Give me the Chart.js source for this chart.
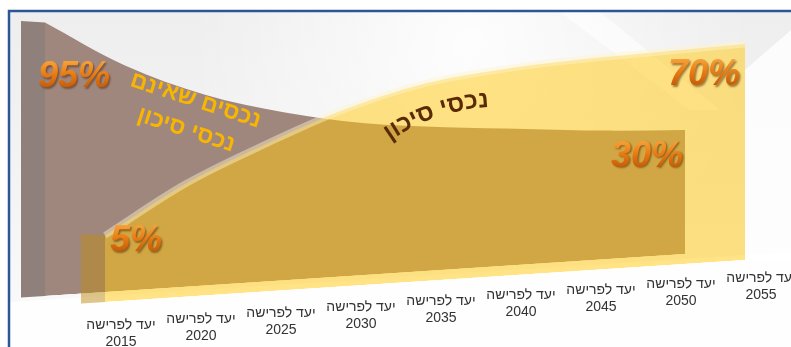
<!DOCTYPE html>
<html lang="he">
<head>
<meta charset="utf-8">
<script src="https://cdn.jsdelivr.net/npm/chart.js@4.4.1/dist/chart.umd.min.js"></script>
<style>
  html, body { margin: 0; padding: 0; background: #fff; }
  #wrap { width: 791px; height: 347px; position: relative; }
</style>
</head>
<body>
<div id="wrap"><canvas id="glide"></canvas></div>
<script>
// target retirement years and the share of each asset group
const years = ['2015', '2020', '2025', '2030', '2035', '2040', '2045', '2050', '2055'];
const tickTitle = 'יעד לפרישה';
const riskyShare = [5, 25, 40, 53, 62, 66, 68, 69, 70];
const safeShare = [95, 74, 59, 49, 42, 38, 35, 32, 30];
const riskyName = 'נכסי סיכון';
const safeName = ['נכסים שאינם', 'נכסי סיכון'];

const SLANT = -0.0655;               // bands lean up towards the right
const TICK_SLANT = -0.0735;
const BACK = { x: -60, y: -6 };      // the safe band sits behind, shifted left
const FONT = '"Liberation Sans", Arial, "DejaVu Sans", sans-serif';

function slant(ctx, x0, shift) {
  if (shift) ctx.translate(shift.x, shift.y);
  ctx.transform(1, SLANT, 0, 1, 0, -SLANT * x0);
}

function mapPt(x, y, x0, shift) {
  const dx = shift ? shift.x : 0, dy = shift ? shift.y : 0;
  return { x: x + dx, y: y + SLANT * (x - x0) + dy };
}

function percentText(ctx, text, x, y, align) {
  ctx.save();
  ctx.font = 'italic bold 36px ' + FONT;
  ctx.textAlign = align;
  ctx.textBaseline = 'alphabetic';
  const g = ctx.createLinearGradient(0, y - 27, 0, y);
  g.addColorStop(0, '#f7a43a');
  g.addColorStop(0.5, '#e97c14');
  g.addColorStop(1, '#c65c06');
  ctx.shadowColor = 'rgba(90,40,0,0.55)';
  ctx.shadowOffsetX = 1.5;
  ctx.shadowOffsetY = 1.5;
  ctx.shadowBlur = 2;
  ctx.fillStyle = g;
  ctx.fillText(text, x, y);
  ctx.restore();
}

// hebrew text laid along an arc, right end first
function arcText(ctx, text, rx, ry, radius, startDeg) {
  ctx.save();
  ctx.font = 'bold 24px ' + FONT;
  ctx.fillStyle = '#5a2a04';
  ctx.textAlign = 'center';
  ctx.textBaseline = 'alphabetic';
  const a0 = startDeg * Math.PI / 180;
  const cx = rx - radius * Math.sin(a0), cy = ry + radius * Math.cos(a0);
  let s = 0;
  for (const ch of text) {
    const w = ctx.measureText(ch).width;
    const a = a0 - (s + w / 2) / radius;
    const px = cx + radius * Math.sin(a), py = cy - radius * Math.cos(a);
    ctx.save();
    ctx.translate(px, py);
    ctx.rotate(a);
    ctx.fillText(ch, 0, 0);
    ctx.restore();
    s += w;
  }
  ctx.restore();
}

const bandPlugin = {
  id: 'bands',
  beforeDraw(chart) {
    const { ctx, width, height } = chart;
    ctx.save();
    ctx.fillStyle = '#fff';
    ctx.fillRect(0, 0, width, height);
    const bg = ctx.createLinearGradient(0, 12, 0, height);
    bg.addColorStop(0, '#eeeeee');
    bg.addColorStop(0.55, '#f4f4f4');
    bg.addColorStop(1, '#fbfbfb');
    ctx.fillStyle = bg;
    ctx.fillRect(10, 12, width - 10, height - 12);
    const glow = ctx.createRadialGradient(470, 45, 0, 470, 45, 280);
    glow.addColorStop(0, 'rgba(255,255,255,0.9)');
    glow.addColorStop(1, 'rgba(255,255,255,0)');
    ctx.fillStyle = glow;
    ctx.fillRect(10, 12, width - 10, height - 12);
    // soft light streaks
    ctx.fillStyle = 'rgba(255,255,255,0.6)';
    ctx.beginPath();
    ctx.moveTo(560, 12); ctx.lineTo(600, 12); ctx.lineTo(720, 110); ctx.lineTo(690, 110);
    ctx.closePath(); ctx.fill();
    ctx.fillStyle = 'rgba(255,255,255,0.8)';
    ctx.beginPath();
    ctx.moveTo(745, 70); ctx.lineTo(791, 30); ctx.lineTo(791, 262); ctx.lineTo(745, 262);
    ctx.closePath(); ctx.fill();
    ctx.beginPath();
    ctx.moveTo(10, 302); ctx.lineTo(791, 252); ctx.lineTo(791, 347); ctx.lineTo(10, 347);
    ctx.closePath(); ctx.fill();
    ctx.strokeStyle = '#2b5797';
    ctx.lineWidth = 2.5;
    ctx.beginPath();
    ctx.moveTo(9, height); ctx.lineTo(9, 11); ctx.lineTo(width, 11);
    ctx.stroke();
    ctx.restore();
  },
  beforeDatasetsDraw(chart) {
    // the safe band (index 1) is painted first
    chart.ctx.save();
    slant(chart.ctx, chart.chartArea.left, BACK);
  },
  afterDatasetDraw(chart, args) {
    const ctx = chart.ctx;
    const p = args.meta.data[0];
    const bottom = chart.chartArea.bottom;
    ctx.save();
    ctx.fillStyle = args.index === 1 ? '#8f807b' : 'rgba(190,140,20,0.5)';
    ctx.beginPath();
    ctx.moveTo(p.x - 24, p.y - 3);
    ctx.lineTo(p.x, p.y);
    ctx.lineTo(p.x, bottom);
    ctx.lineTo(p.x - 24, bottom);
    ctx.closePath();
    ctx.fill();
    ctx.restore();
    if (args.index === 1) {
      ctx.restore();
      ctx.save();
      slant(ctx, chart.chartArea.left, null);
    }
  },
  afterDatasetsDraw(chart) {
    const ctx = chart.ctx;
    ctx.restore();
    const left = chart.chartArea.left;
    const risky = chart.getDatasetMeta(0).data;
    const safe = chart.getDatasetMeta(1).data;
    const last = years.length - 1;

    let q = mapPt(safe[0].x, safe[0].y, left, BACK);
    percentText(ctx, safeShare[0] + '%', q.x - 7, q.y + 65, 'left');
    q = mapPt(safe[last].x, safe[last].y, left, BACK);
    percentText(ctx, safeShare[last] + '%', q.x - 2, q.y + 37, 'right');
    q = mapPt(risky[0].x, risky[0].y, left, null);
    percentText(ctx, riskyShare[0] + '%', q.x + 5, q.y + 16, 'left');
    q = mapPt(risky[last].x, risky[last].y, left, null);
    percentText(ctx, riskyShare[last] + '%', q.x - 5, q.y + 41, 'right');

    // band names
    ctx.save();
    ctx.translate(191, 115);
    ctx.rotate(18 * Math.PI / 180);
    ctx.font = 'bold 23px ' + FONT;
    ctx.fillStyle = '#f8b600';
    ctx.textAlign = 'center';
    ctx.textBaseline = 'middle';
    ctx.fillText(safeName[0], 0, -15);
    ctx.fillText(safeName[1], 0, 16);
    ctx.restore();
    arcText(ctx, riskyName, 489, 107, 190, -3);

    // slanted two-line ticks
    ctx.save();
    ctx.font = '14px ' + FONT;
    ctx.fillStyle = '#333';
    ctx.textAlign = 'center';
    ctx.textBaseline = 'middle';
    const xs = chart.scales.x;
    years.forEach((yr, i) => {
      const x = xs.getPixelForValue(i) + 16;
      const y = 325 + TICK_SLANT * (x - 121);
      ctx.fillText(tickTitle, x, y);
      ctx.fillText(yr, x, y + 17);
    });
    ctx.restore();
  }
};

new Chart(document.getElementById('glide'), {
  type: 'line',
  data: {
    labels: years,
    datasets: [
      {
        label: riskyName,
        data: riskyShare,
        fill: 'start',
        backgroundColor: 'rgba(255,200,10,0.5)',
        borderColor: 'rgba(255,243,205,0.45)',
        borderWidth: 7,
        pointRadius: 0,
        cubicInterpolationMode: 'monotone',
        clip: false
      },
      {
        label: safeName.join(' '),
        data: safeShare,
        fill: 'start',
        backgroundColor: '#a0877e',
        borderWidth: 0,
        pointRadius: 0,
        cubicInterpolationMode: 'monotone',
        clip: false
      }
    ]
  },
  options: {
    responsive: true,
    maintainAspectRatio: false,
    animation: false,
    events: [],
    layout: { padding: { left: 105, right: 46, top: 17, bottom: 45 } },
    scales: {
      x: { display: false, offset: false },
      y: { display: false, min: -24, max: 100 }
    },
    plugins: {
      legend: { display: false },
      tooltip: { enabled: false }
    }
  },
  plugins: [bandPlugin]
});
</script>
</body>
</html>
